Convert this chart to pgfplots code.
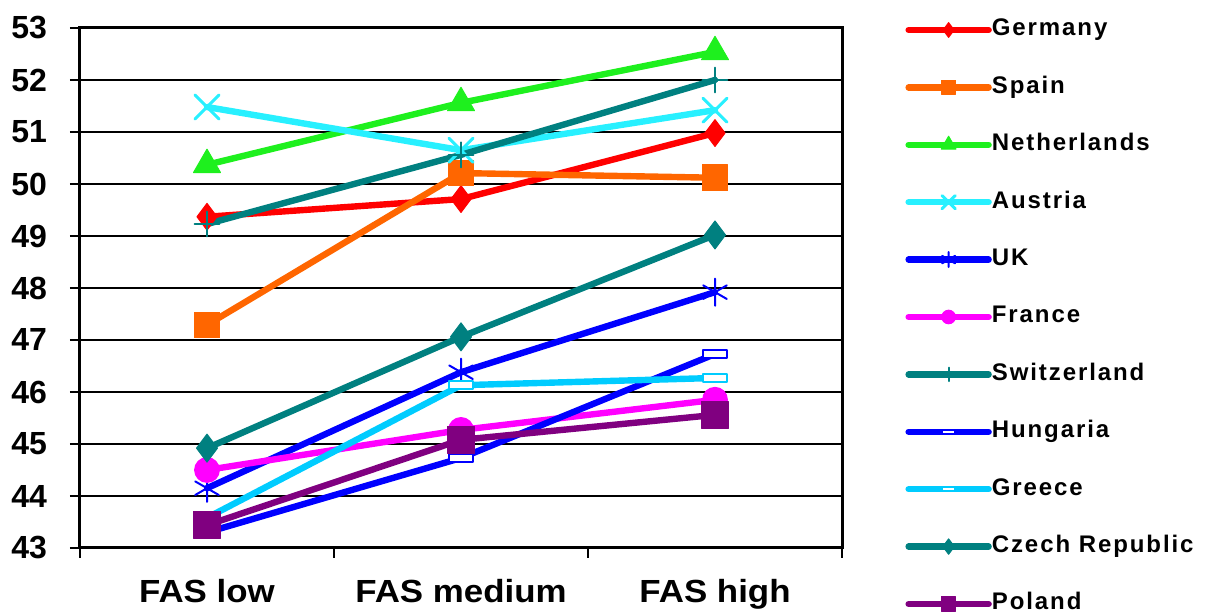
\documentclass[border=0pt]{standalone}
\usepackage{fontspec}
\setmainfont{Liberation Sans}
\newfontfamily\legfont{Liberation Sans}[LetterSpace=8]
\newfontfamily\xfont{Liberation Sans}[FakeStretch=1.09]
\usepackage{pgfplots}
\pgfplotsset{compat=1.18}

\definecolor{cGer}{RGB}{255,0,0}
\definecolor{cSpa}{RGB}{255,102,0}
\definecolor{cNed}{RGB}{30,240,30}
\definecolor{cAut}{RGB}{40,240,255}
\definecolor{cUK}{RGB}{0,0,255}
\definecolor{cFra}{RGB}{255,0,255}
\definecolor{cSui}{RGB}{0,128,128}
\definecolor{cHun}{RGB}{0,0,255}
\definecolor{cGre}{RGB}{0,204,255}
\definecolor{cCze}{RGB}{0,128,128}
\definecolor{cPol}{RGB}{128,0,128}

\begin{document}
\begin{tikzpicture}
\begin{axis}[
    scale only axis,
    width=381pt, height=260pt,
    xmin=-0.5, xmax=2.5, ymin=43, ymax=53,
    xtick={0,1,2},
    xticklabels={FAS low, FAS medium, FAS high},
    minor xtick={-0.5,0.5,1.5,2.5},
    major x tick style={draw=none},
    ytick={43,44,...,53},
    xtick pos=bottom, ytick pos=left,
    tick align=outside,
    major tick length=5pt, minor tick length=5pt,
    tick style={black, line width=1pt},
    ymajorgrids,
    major grid style={black, line width=1pt},
    axis line style={black, line width=1.5pt},
    /pgf/number format/assume math mode=true,
    yticklabel style={font=\bfseries\fontsize{16}{16}\selectfont, xshift=-8pt},
    xticklabel style={font=\xfont\bfseries\fontsize{16}{16}\selectfont, yshift=-7pt},
    every axis plot/.append style={line width=3.2pt, line join=round, line cap=round},
    legend cell align=left,
    legend style={draw=none, fill=none, at={(1.0827,1.02)}, anchor=north west,
        inner sep=0pt, row sep=16.7pt, column sep=0pt,
        font=\legfont\bfseries\fontsize{12}{12}\selectfont,
        nodes={inner sep=0pt, text height=9pt, text depth=3pt}},
    legend image code/.code={\draw[mark repeat=2,mark phase=2,mark size=0.55\pgfplotmarksize]
        plot coordinates {(0pt,0pt)(20pt,0pt)(40pt,0pt)};},
]
\addplot[color=cGer, mark=diamond*, mark size=6.7pt, mark options={solid, line width=0.5pt}]
    coordinates {(0,49.37) (1,49.71) (2,50.98)};
\addlegendentry{Germany}
\addplot[color=cSpa, mark=square*, mark size=6.4pt, mark options={solid, line width=0.5pt}]
    coordinates {(0,47.29) (1,50.21) (2,50.12)};
\addlegendentry{Spain}
\addplot[color=cNed, mark=triangle*, mark size=7.8pt, mark options={solid, line width=0.5pt}]
    coordinates {(0,50.37) (1,51.56) (2,52.54)};
\addlegendentry{Netherlands}
\addplot[color=cAut, mark=x, mark size=8.5pt, mark options={solid, line width=1.5pt}]
    coordinates {(0,51.48) (1,50.65) (2,51.42)};
\addlegendentry{Austria}
\addplot[color=cUK, mark=asterisk, mark size=6.8pt, mark options={solid, line width=1pt}]
    coordinates {(0,44.15) (1,46.38) (2,47.92)};
\addlegendentry{UK}
\addplot[color=cFra, mark=*, mark size=6.2pt, mark options={solid, line width=0.5pt}]
    coordinates {(0,44.50) (1,45.27) (2,45.85)};
\addlegendentry{France}
\addplot[color=cSui, mark=+, mark size=6.2pt, mark options={solid, line width=1pt}]
    coordinates {(0,49.23) (1,50.56) (2,52.00)};
\addlegendentry{Switzerland}
\addplot[color=cHun, mark=square*, mark size=6pt, mark options={solid, fill=white, yscale=0.33, line width=1pt}]
    coordinates {(0,43.30) (1,44.73) (2,46.73)};
\addlegendentry{Hungaria}
\addplot[color=cGre, mark=square*, mark size=6pt, mark options={solid, fill=white, yscale=0.33, line width=1pt}]
    coordinates {(0,43.58) (1,46.13) (2,46.27)};
\addlegendentry{Greece}
\addplot[color=cCze, mark=diamond*, mark size=7pt, mark options={solid, line width=0.5pt}]
    coordinates {(0,44.92) (1,47.06) (2,49.02)};
\addlegendentry{Czech Republic}
\addplot[color=cPol, mark=square*, mark size=6.6pt, mark options={solid, line width=0.5pt}]
    coordinates {(0,43.44) (1,45.08) (2,45.56)};
\addlegendentry{Poland}
\end{axis}
\pgfresetboundingbox
\useasboundingbox (-40pt,-32.5pt) rectangle (564pt,274pt);
\end{tikzpicture}
\end{document}
